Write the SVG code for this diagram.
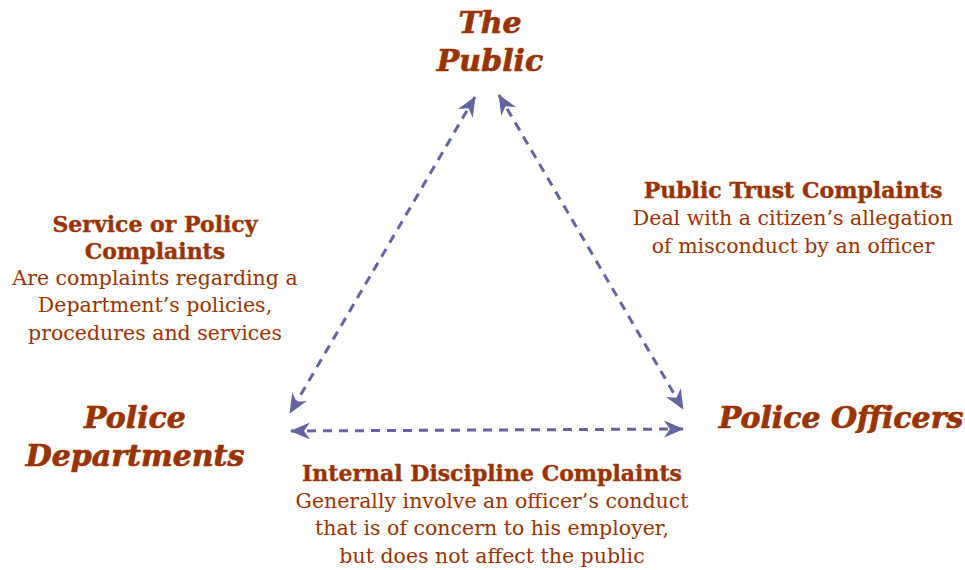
<svg xmlns="http://www.w3.org/2000/svg" width="965" height="570" viewBox="0 0 965 570">
  <style>
    .title { font-family: "DejaVu Serif", "Liberation Serif", serif; font-weight: bold; font-style: italic; font-size: 30px; fill: #993300; stroke: #993300; stroke-width: 0.7; text-anchor: middle; }
    .head { font-family: "DejaVu Serif", "Liberation Serif", serif; font-weight: bold; font-size: 22px; fill: #993300; stroke: #993300; stroke-width: 0.4; text-anchor: middle; }
    .body { font-family: "DejaVu Serif", "Liberation Serif", serif; font-size: 20.5px; fill: #993300; text-anchor: middle; }
    .link { stroke: #6464A0; stroke-width: 3; stroke-dasharray: 9 7; fill: none; }
  </style>
  <defs>
    <!-- notched arrowhead used at both ends of every link -->
    <marker id="head" viewBox="0 0 20 17" refX="19" refY="8.5" markerWidth="20" markerHeight="17" markerUnits="userSpaceOnUse" orient="auto-start-reverse">
      <path d="M0,0 L20,8.5 L0,17 L6,8.5 Z" fill="#6464A0"/>
    </marker>
  </defs>
  <rect width="965" height="570" fill="#ffffff"/>

  <g id="connectors">
    <line class="link" x1="475" y1="97" x2="290" y2="413" marker-start="url(#head)" marker-end="url(#head)"/>
    <line class="link" x1="499" y1="95" x2="683" y2="409" marker-start="url(#head)" marker-end="url(#head)"/>
    <line class="link" x1="291" y1="431" x2="683" y2="429" marker-start="url(#head)" marker-end="url(#head)"/>
  </g>

  <g id="the-public">
    <text class="title" x="490" y="33">The</text>
    <text class="title" x="490" y="71">Public</text>
  </g>

  <g id="police-departments">
    <text class="title" x="135" y="428">Police</text>
    <text class="title" x="135" y="466">Departments</text>
  </g>

  <g id="police-officers">
    <text class="title" x="841" y="428">Police Officers</text>
  </g>

  <g id="public-trust">
    <text class="head" x="793" y="198">Public Trust Complaints</text>
    <text class="body" x="793" y="225">Deal with a citizen’s allegation</text>
    <text class="body" x="793" y="253">of misconduct by an officer</text>
  </g>

  <g id="service-policy">
    <text class="head" x="155" y="232">Service or Policy</text>
    <text class="head" x="155" y="259">Complaints</text>
    <text class="body" x="155" y="285">Are complaints regarding a</text>
    <text class="body" x="155" y="312">Department’s policies,</text>
    <text class="body" x="155" y="340">procedures and services</text>
  </g>

  <g id="internal-discipline">
    <text class="head" x="492" y="481">Internal Discipline Complaints</text>
    <text class="body" x="492" y="508">Generally involve an officer’s conduct</text>
    <text class="body" x="492" y="535">that is of concern to his employer,</text>
    <text class="body" x="492" y="563">but does not affect the public</text>
  </g>
</svg>
